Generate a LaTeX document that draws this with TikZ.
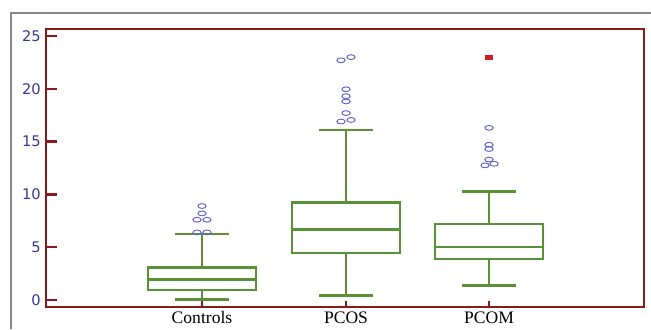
\documentclass[tikz,border=0pt]{standalone}
\usepackage{fontspec}
\setmainfont{Liberation Serif}
\newfontfamily\tickfont{DejaVu Sans}
\usepackage{tikz}
\usetikzlibrary{positioning}
\definecolor{myframe}{RGB}{140,25,25}
\definecolor{mybox}{RGB}{90,145,55}
\definecolor{myout}{RGB}{95,95,205}
\definecolor{mytick}{RGB}{55,55,150}
\definecolor{myextreme}{RGB}{205,30,35}
\definecolor{mygray}{RGB}{135,135,135}

\begin{document}
\begin{tikzpicture}[
    x=0.03cm, y=-0.03cm,
    frame/.style={draw=myframe, line width=2pt},
    boxline/.style={draw=mybox, line width=2.5pt},
    outlier/.style={draw=myout, line width=0.8pt},
    ticklabel/.style={anchor=east, text=mytick, font=\tickfont\fontsize{12.5}{14}\selectfont, inner sep=0pt},
    catlabel/.style={font=\fontsize{15}{17}\selectfont, inner sep=0pt},
]
    \useasboundingbox (0,0) rectangle (651,329);

    % Outer frame
    \draw[mygray, line width=1.3pt] (11,329) -- (11,13) -- (651,13);

    % Plot frame
    \draw[frame] (46,29) rectangle (644,307);

    \begin{scope}[shift={(0,300)}, y=0.3168cm]
        % Value axis
        \foreach \v in {0,5,...,25} {
            \draw[frame] (46,\v) -- (57,\v);
            \node[ticklabel] (ylab\v) at (41,\v) {\v};
        }

        % Boxes
        \foreach \cx/\lo/\qa/\med/\qc/\hi/\name in {
            202/0.09/0.95/1.9/3.05/6.25/Controls,
            346/0.47/4.45/6.72/9.19/16.1/PCOS,
            489/1.33/3.88/5.02/7.2/10.3/PCOM} {
            \draw[frame] (\cx,-0.67) -- (\cx,-0.1);
            \node[catlabel] (lab-\name) at (\cx,-1.67) {\name};
            \draw[boxline] (\cx-54,\qa) rectangle (\cx+54,\qc);
            \draw[boxline] (\cx-54,\med) -- (\cx+54,\med);
            \draw[boxline] (\cx,\qa) -- (\cx,\lo);
            \draw[boxline] (\cx,\qc) -- (\cx,\hi);
            \draw[boxline] (\cx-27,\lo) -- (\cx+27,\lo);
            \draw[boxline] (\cx-27,\hi) -- (\cx+27,\hi);
        }

        % Outliers
        \foreach \ox/\ov in {202/8.9, 202/8.2, 197/7.6, 207/7.6, 197/6.4, 207/6.4,
            341/22.7, 351/23.0, 346/19.95, 346/19.3, 346/18.8, 346/17.7, 341/16.9, 351/17.05,
            489/16.3, 489/14.7, 489/14.3, 489/13.3, 485/12.75, 494/12.9}
            \draw[outlier] (\ox,\ov) ellipse [x radius=0.125cm, y radius=0.072cm];

        % Extreme value
        \fill[myextreme] (484.6,22.7) rectangle (493.4,23.2);
    \end{scope}
\end{tikzpicture}
\end{document}
